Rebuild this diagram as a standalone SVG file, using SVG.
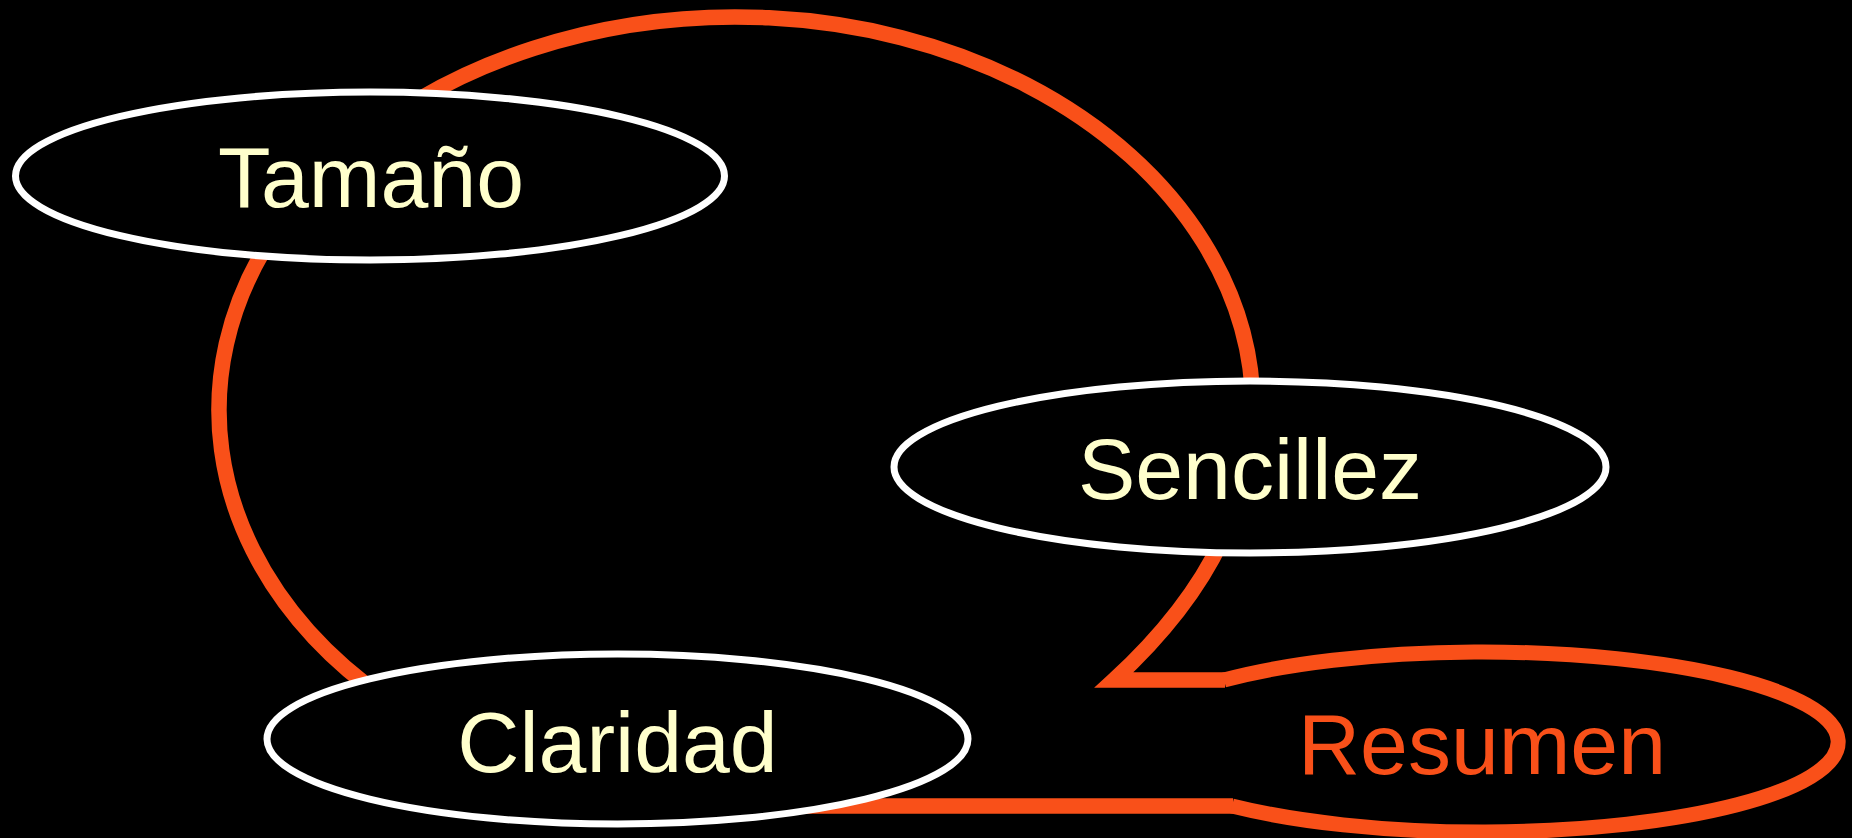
<svg xmlns="http://www.w3.org/2000/svg" width="1862" height="838" viewBox="0 0 1862 838">
  <style>
    .node { fill: #000000; stroke: #FFFFFF; stroke-width: 7; }
    .label { font-family: "Liberation Sans", Arial, sans-serif; font-size: 86px; fill: #FFFFCC; text-anchor: middle; }
    .conn { fill: none; stroke: #F95019; stroke-width: 15.5; stroke-linejoin: miter; stroke-miterlimit: 4; }
    .accent { fill: none; stroke: #F95019; stroke-width: 15; }
  </style>
  <rect x="0" y="0" width="1862" height="838" fill="#FFFFFF"/>
  <rect x="0" y="0" width="1852" height="838" fill="#000000"/>

  <g id="connectors">
    <path class="conn" d="M 387 700 A 517 393 0 1 1 1252.8 420"/>
    <path class="conn" d="M 1222 540 Q 1188 612 1114 680 L 1225 680"/>
    <path class="conn" d="M 1233 806 L 800 806"/>
  </g>

  <g id="node-tamano">
    <ellipse class="node" cx="370" cy="176" rx="354.5" ry="84"/>
    <text class="label" x="371" y="207">Tamaño</text>
  </g>

  <g id="node-sencillez">
    <ellipse class="node" cx="1250" cy="467" rx="356" ry="86"/>
    <text class="label" x="1250" y="499">Sencillez</text>
  </g>

  <g id="node-claridad">
    <ellipse class="node" cx="617.5" cy="739" rx="350.5" ry="85"/>
    <text class="label" x="617.5" y="772">Claridad</text>
  </g>

  <g id="node-resumen">
    <path class="accent" d="M 1224 680 A 356 90 0 1 1 1232 806"/>
    <text class="label" x="1482" y="774" style="fill:#F95019">Resumen</text>
  </g>
</svg>
